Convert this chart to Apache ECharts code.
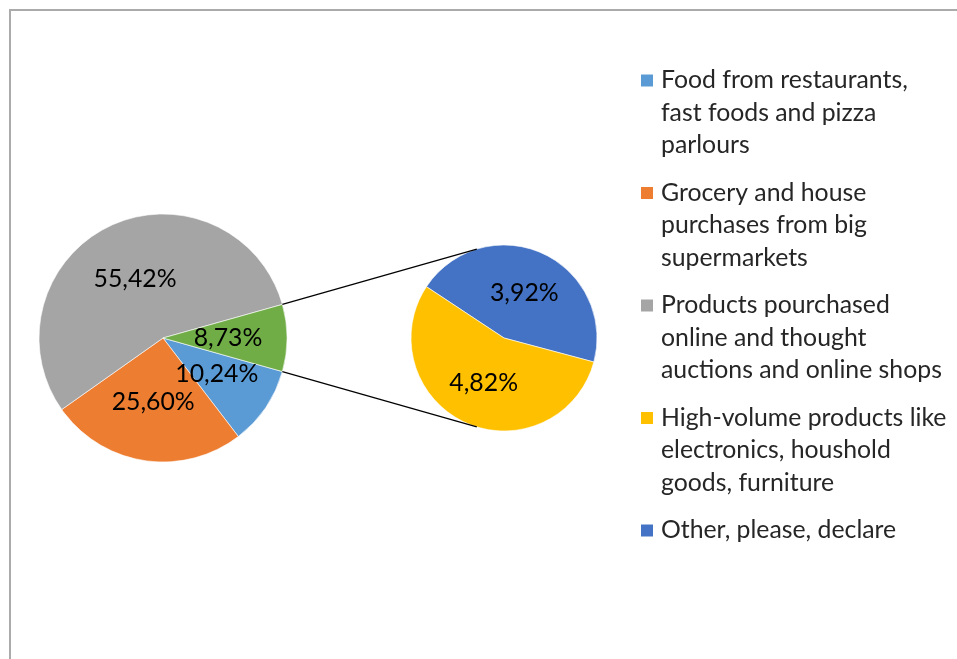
<!DOCTYPE html>
<html>
<head>
<meta charset="utf-8">
<title>Purchases</title>
<script src="https://cdn.jsdelivr.net/npm/echarts@6/dist/echarts.min.js"></script>
<style>
  html, body { margin: 0; padding: 0; background: #fff; }
  #chart { width: 957px; height: 659px; }
</style>
</head>
<body>
<div id="chart"></div>
<script>
// Main pie categories and shares (%)
const mainNames = [
  'Food from restaurants, fast foods and pizza parlours',
  'Grocery and house purchases from big supermarkets',
  'Products pourchased online and thought auctions and online shops'
];
const mainValues = [10.24, 25.60, 55.42];
// Combined slice that is broken out into the second pie
const otherName = 'Other';
const otherValue = 8.73;
// Second pie categories and shares (%)
const subNames = [
  'Other, please, declare',
  'High-volume products like electronics, houshold goods, furniture'
];
const subValues = [3.92, 4.82];
// Legend order and wrapped legend text
const legendNames = [
  'Food from restaurants, fast foods and pizza parlours',
  'Grocery and house purchases from big supermarkets',
  'Products pourchased online and thought auctions and online shops',
  'High-volume products like electronics, houshold goods, furniture',
  'Other, please, declare'
];
const legendLines = [
  ['Food from restaurants,', 'fast foods and pizza', 'parlours'],
  ['Grocery and house', 'purchases from big', 'supermarkets'],
  ['Products pourchased', 'online and thought', 'auctions and online shops'],
  ['High-volume products like', 'electronics, houshold', 'goods, furniture'],
  ['Other, please, declare']
];

const colors = {
  'Food from restaurants, fast foods and pizza parlours': '#5B9BD5',
  'Grocery and house purchases from big supermarkets': '#ED7D31',
  'Products pourchased online and thought auctions and online shops': '#A5A5A5',
  'Other': '#70AD47',
  'High-volume products like electronics, houshold goods, furniture': '#FFC000',
  'Other, please, declare': '#4472C4'
};

const FONT = 'Lato';
const FS = 24.8;
const LINE_H = 32.5;

const MAIN_C = [163, 338], MAIN_R = 124;
const SUB_C = [504, 338], SUB_R = 93;
const SUB_START = 146.5;
const CONNECT_ANGLE = 107;

const fmt = v => v.toFixed(2).replace('.', ',') + '%';

const mainTotal = mainValues.reduce((a, b) => a + b, 0) + otherValue;
const half = otherValue / mainTotal * 180; // half-angle of the broken-out slice

const mainData = mainNames.map((n, i) => ({ name: n, value: mainValues[i], itemStyle: { color: colors[n] } }));
mainData.push({ name: otherName, value: otherValue, itemStyle: { color: colors[otherName] } });
const subData = subNames.map((n, i) => ({ name: n, value: subValues[i], itemStyle: { color: colors[n] } }));

// connector lines from the broken-out slice edges to the second pie
const rad = d => d * Math.PI / 180;
const pt = (c, r, a) => [c[0] + r * Math.cos(rad(a)), c[1] - r * Math.sin(rad(a))];
const connectors = [1, -1].map(s => {
  const p1 = pt(MAIN_C, MAIN_R, s * half);
  const p2 = pt(SUB_C, SUB_R, s * CONNECT_ANGLE);
  return {
    type: 'line',
    shape: { x1: p1[0], y1: p1[1], x2: p2[0], y2: p2[1] },
    style: { stroke: '#000', lineWidth: 1.2 },
    z: 10
  };
});

// one legend block per entry; icon aligned with the first text line
const legends = [];
let iconCenter = 80.5;
legendNames.forEach((n, i) => {
  const lines = legendLines[i];
  const pad = lines.length - 1;
  const text = '\n'.repeat(pad) + lines.join('\n');
  legends.push({
    orient: 'vertical',
    left: 639,
    top: iconCenter - (pad + 0.5) * LINE_H,
    padding: 0,
    itemWidth: 14,
    itemHeight: 14,
    icon: 'rect',
    selectedMode: false,
    data: [n],
    formatter: () => text,
    textStyle: { fontFamily: FONT, fontSize: FS, color: '#262626', lineHeight: LINE_H, padding: [0, 0, 0, 2] }
  });
  iconCenter += lines.length * LINE_H + 15;
});

const labelStyle = {
  show: true,
  position: 'inside',
  formatter: p => fmt(p.value),
  fontFamily: FONT,
  fontSize: FS,
  color: '#000'
};

const chart = echarts.init(document.getElementById('chart'));
chart.setOption({
  animation: false,
  backgroundColor: '#fff',
  legend: legends,
  graphic: [
    {
      type: 'rect',
      shape: { x: 10, y: 10, width: 1000, height: 700 },
      style: { fill: 'none', stroke: '#ABABAB', lineWidth: 2 },
      silent: true
    }
  ].concat(connectors),
  series: [
    {
      type: 'pie',
      center: MAIN_C,
      radius: MAIN_R,
      startAngle: -half,
      clockwise: true,
      avoidLabelOverlap: false,
      label: labelStyle,
      labelLine: { show: false },
      itemStyle: { borderColor: '#fff', borderWidth: 0.6 },
      emphasis: { disabled: true },
      data: mainData
    },
    {
      type: 'pie',
      center: SUB_C,
      radius: SUB_R,
      startAngle: SUB_START,
      clockwise: true,
      avoidLabelOverlap: false,
      label: labelStyle,
      labelLine: { show: false },
      itemStyle: { borderColor: '#fff', borderWidth: 0.6 },
      emphasis: { disabled: true },
      data: subData
    }
  ]
});
</script>
</body>
</html>
